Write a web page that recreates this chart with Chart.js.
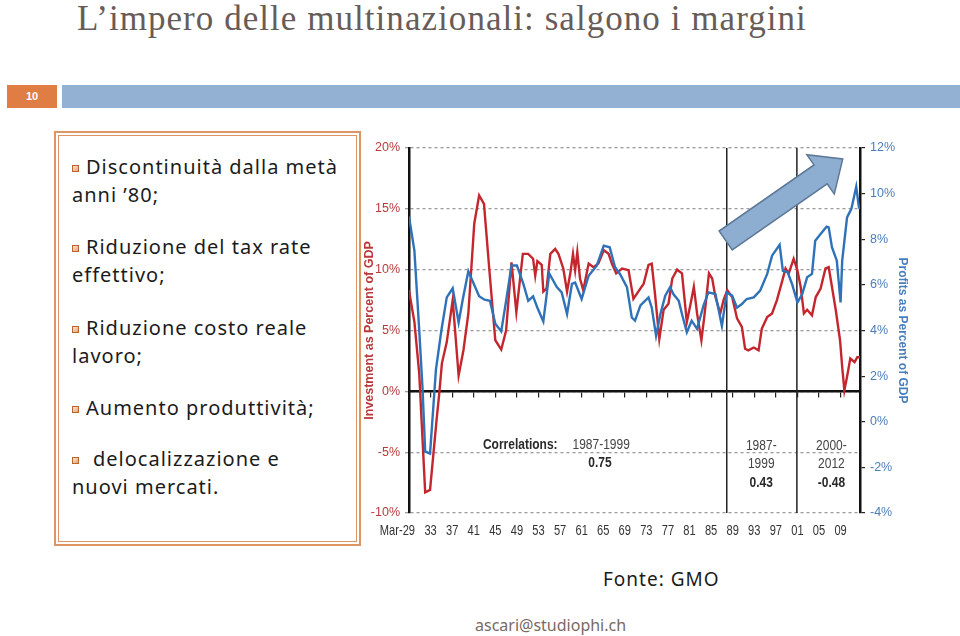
<!DOCTYPE html>
<html>
<head>
<meta charset="utf-8">
<script src="https://cdn.jsdelivr.net/npm/chart.js@4.4.1/dist/chart.umd.min.js"></script>
<style>
  html,body{margin:0;padding:0;background:#fff;}
  body{width:960px;height:636px;position:relative;overflow:hidden;}
  .title{position:absolute;left:77px;top:-1px;font-family:'Liberation Serif','DejaVu Serif',serif;font-size:35px;color:#675c58;white-space:nowrap;letter-spacing:1.05px;}
  .num{position:absolute;left:7px;top:85px;width:50px;height:23px;background:#e07d45;color:#fff;font-family:'Liberation Sans',sans-serif;font-weight:bold;font-size:11px;line-height:23px;text-align:center;}
  .bar{position:absolute;left:62px;top:85px;width:898px;height:23px;background:#93b2d3;}
  .box1{position:absolute;left:54px;top:131px;width:303px;height:411px;border:2px solid #dc9563;}
  .box2{position:absolute;left:58px;top:135px;width:297px;height:405px;border:1.5px solid #dc9563;}
  .ln{position:absolute;font-family:'Noto Sans','Open Sans',sans-serif;font-size:20px;line-height:28px;color:#1b1b1b;white-space:nowrap;letter-spacing:1px;}
  .bul{position:absolute;width:5px;height:5px;border:1px solid #b8652e;background:linear-gradient(135deg,#fde8d6,#e9a271);}
  .src{position:absolute;left:603px;top:566px;font-family:'Noto Sans','Open Sans',sans-serif;font-size:19px;color:#1b1b1b;white-space:nowrap;letter-spacing:1px;}
  .mail{position:absolute;left:475px;top:614px;font-family:'Noto Sans','Open Sans',sans-serif;font-size:16px;color:#7a6a64;white-space:nowrap;}
  #cv{position:absolute;left:360px;top:130px;}
</style>
</head>
<body>
<div class="title">L’impero delle multinazionali: salgono i margini</div>
<div class="num">10</div>
<div class="bar"></div>
<div class="box1"></div>
<div class="box2"></div>

<div class="bul" style="left:72px;top:165px"></div>
<div class="ln" style="left:86px;top:153px">Discontinuità dalla metà</div>
<div class="ln" style="left:72px;top:181px">anni ’80;</div>
<div class="bul" style="left:72px;top:245px"></div>
<div class="ln" style="left:86px;top:233px">Riduzione del tax rate</div>
<div class="ln" style="left:72px;top:261px">effettivo;</div>
<div class="bul" style="left:72px;top:326px"></div>
<div class="ln" style="left:86px;top:314px">Riduzione costo reale</div>
<div class="ln" style="left:72px;top:342px">lavoro;</div>
<div class="bul" style="left:72px;top:406px"></div>
<div class="ln" style="left:86px;top:394px">Aumento produttività;</div>
<div class="bul" style="left:72px;top:457px"></div>
<div class="ln" style="left:93px;top:445px">delocalizzazione e</div>
<div class="ln" style="left:72px;top:473px">nuovi mercati.</div>

<div class="src">Fonte: GMO</div>
<div class="mail">ascari@studiophi.ch</div>

<canvas id="cv" width="552" height="415"></canvas>

<script>
// ---- Data ----
const invYears = [1929,1930,1930.9,1932,1932.9,1934.1,1934.6,1935.1,1936,1937.1,1938.2,1939.1,1940,1941.1,1942,1942.9,1943.9,1945,1946.1,1947,1948,1948.9,1950.1,1951.1,1952,1952.4,1952.8,1953.6,1953.9,1954.5,1955.2,1956.1,1956.7,1957.6,1958.3,1958.9,1959.4,1959.8,1960.2,1960.7,1961.3,1962.3,1963.2,1964.1,1965.1,1966,1966.6,1967.4,1968.5,1969.7,1970.6,1971.5,1972.5,1973.4,1974,1974.6,1975.4,1976.2,1977.1,1977.8,1978.7,1979.6,1980.5,1981.2,1981.8,1982.4,1983.2,1983.7,1984.2,1984.6,1985.2,1985.8,1986.7,1987.3,1988,1988.9,1989.8,1990.7,1991.3,1991.9,1992.9,1993.8,1994.4,1995.4,1996.3,1997.2,1998.2,1998.8,1999.4,2000,2000.3,2001,2001.6,2002.2,2002.8,2003.7,2004.4,2005.3,2006.2,2006.8,2007.4,2008.1,2008.9,2009.3,2009.7,2010.2,2010.8,2011.6,2012.1,2012.6];
const invValues = [8.3,5.7,1.45,-8.3,-8.1,-2.4,-0.2,2.3,4.05,7.5,1.3,3.4,6.4,13.8,16.1,15.4,9.95,4.2,3.43,5.0,10.6,6.5,11.3,11.3,10.9,9.5,10.7,10.4,8.2,8.45,11.3,11.7,11.3,10.1,8.2,9.7,11.3,9.95,11.45,9.27,8.3,10.5,10.2,10.5,11.6,11.3,10.5,9.7,10.1,9.95,7.6,8.2,8.85,10.4,10.5,8.0,4.3,6.7,7.2,9.27,10.0,9.7,5.7,7.2,8.6,6.4,4.2,6.0,8.0,9.7,9.27,7.75,6.4,7.5,8.3,7.75,6.0,5.3,3.5,3.37,3.6,3.37,5.15,6.1,6.4,7.5,9.1,10.1,9.7,10.5,10.9,9.95,8.6,6.4,6.7,6.25,7.75,8.45,10.1,10.2,8.6,6.7,4.2,2.0,0.08,1.2,2.7,2.4,2.8,2.8];

const profYears = [1929,1930,1930.9,1931.5,1932,1932.9,1934,1935,1936,1937.1,1938.2,1939,1940,1941,1942,1943,1944,1945,1946.1,1947.1,1948,1949,1950.2,1951.1,1952,1952.8,1953.9,1955,1956.4,1957.3,1958.3,1959.2,1959.8,1961,1962.3,1963.8,1965.1,1966.2,1967.2,1968.1,1969.4,1970.3,1970.9,1971.9,1973.4,1974,1974.8,1975.6,1976.5,1977.4,1978,1979,1979.6,1980.5,1981.4,1982.4,1983.6,1984.5,1985.8,1987,1987.9,1988.9,1989.8,1990.7,1991.6,1992.9,1994.1,1995.4,1996.3,1997.7,1998.3,1999.2,2000,2001,2001.9,2002.8,2003.7,2004.3,2005.3,2006.4,2006.8,2007.4,2008.3,2009,2009.3,2010.2,2011,2011.9,2012.4,2012.6];
const profValues = [9.0,7.5,4.0,1.5,-1.3,-1.4,2.3,4.0,5.45,5.85,4.35,5.4,6.6,6.05,5.5,5.35,5.3,4.3,3.96,5.45,6.85,6.85,6.04,5.3,5.5,5.0,4.4,6.5,5.9,5.67,4.72,6.04,6.1,5.38,6.4,6.84,7.72,7.65,6.77,6.48,5.9,4.57,4.43,5.1,5.45,5.0,3.77,4.72,5.53,5.9,5.6,5.3,4.72,3.92,4.43,4.07,5.1,5.67,5.6,4.2,5.67,5.53,5.0,5.16,5.38,5.45,5.75,6.48,7.28,7.76,6.62,6.55,6.04,5.23,5.6,6.33,6.48,7.94,8.23,8.55,8.52,7.65,7.06,5.23,7.06,8.96,9.33,10.3,9.4,9.33];

const tickYears  = [1929,1933,1937,1941,1945,1949,1953,1957,1961,1965,1969,1973,1977,1981,1985,1989,1993,1997,2001,2005,2009];
const tickLabels = ['Mar-29','33','37','41','45','49','53','57','61','65','69','73','77','81','85','89','93','97','01','05','09'];

const periodBreaks = [1987.9, 2000.9];   // vertical separators
const corrPeriods = ['1987-1999', '1987-\n1999', '2000-\n2012'];
const corrValues  = ['0.75', '0.43', '-0.48'];

const RED = '#c4262e', BLUE = '#2f72b8';
const SANS = "'Liberation Sans',Arial,sans-serif";

const xr = {min:1929, max:2012.6};
const setTicks = s => { s.ticks = tickYears.map(v => ({value:v})); };

const datasets = [
  {data: invYears.map((x,i)=>({x, y:invValues[i]})), yAxisID:'y', borderColor:RED, borderWidth:2.4, pointRadius:0, tension:0, order:2},
  {data: profYears.map((x,i)=>({x, y:profValues[i]})), yAxisID:'y2', borderColor:BLUE, borderWidth:2.4, pointRadius:0, tension:0, order:1},
];
periodBreaks.forEach(b => datasets.push({data:[{x:b,y:-10},{x:b,y:20}], yAxisID:'y', borderColor:'#222', borderWidth:1.5, pointRadius:0, order:3}));

// narrow text helper (Arial-Narrow look)
function narrowText(ctx, txt, px, py, align, sx){
  ctx.save();
  ctx.translate(px, py);
  ctx.scale(sx, 1);
  ctx.textAlign = align;
  ctx.fillText(txt, 0, 0);
  ctx.restore();
}

const annot = {
  id:'annot',
  afterDraw(chart){
    const {ctx, scales:{x, y}, chartArea} = chart;
    ctx.save();
    ctx.textBaseline = 'middle';
    // x tick labels (narrow)
    ctx.font = "15px " + SANS;
    ctx.fillStyle = '#333';
    tickYears.forEach((v,i) => {
      const px = x.getPixelForValue(v);
      if (i === 0) narrowText(ctx, tickLabels[i], px + 6, chartArea.bottom + 18, 'right', 0.74);
      else narrowText(ctx, tickLabels[i], px, chartArea.bottom + 18, 'center', 0.74);
    });
    ctx.restore();
  },
  afterDatasetsDraw(chart){
    const {ctx, scales:{x, y}} = chart;
    ctx.save();
    ctx.textBaseline = 'middle';
    const S = 0.8;
    ctx.font = "bold 15px " + SANS; ctx.fillStyle = '#2a2a2a';
    narrowText(ctx, 'Correlations:', x.getPixelForValue(1942.7), y.getPixelForValue(-4.36), 'left', S);
    ctx.font = "15px " + SANS; ctx.fillStyle = '#444';
    narrowText(ctx, corrPeriods[0], x.getPixelForValue(1959.3), y.getPixelForValue(-4.36), 'left', S);
    ctx.font = "bold 15px " + SANS; ctx.fillStyle = '#2a2a2a';
    narrowText(ctx, corrValues[0], x.getPixelForValue(1964.4), y.getPixelForValue(-5.9), 'center', S);
    const centers = [1994.3, 2007.3];
    [1,2].forEach((k,j) => {
      const cx = x.getPixelForValue(centers[j]);
      const parts = corrPeriods[k].split('\n');
      ctx.font = "15px " + SANS; ctx.fillStyle = '#444';
      narrowText(ctx, parts[0], cx, y.getPixelForValue(-4.45), 'center', S);
      narrowText(ctx, parts[1], cx, y.getPixelForValue(-6.0), 'center', S);
      ctx.font = "bold 15px " + SANS; ctx.fillStyle = '#2a2a2a';
      narrowText(ctx, corrValues[k], cx, y.getPixelForValue(-7.55), 'center', S);
    });
    // arrow
    const x0 = x.getPixelForValue(1987.7), y0 = y.getPixelForValue(12.4);
    const x1 = x.getPixelForValue(2009.4), y1 = y.getPixelForValue(19.1);
    const dx = x1-x0, dy = y1-y0, L = Math.hypot(dx,dy);
    const ux = dx/L, uy = dy/L, nx = -uy, ny = ux;
    const sw = 11.5, hw = 24, hl = 27;
    const bx = x1 - ux*hl, by = y1 - uy*hl;
    ctx.beginPath();
    ctx.moveTo(x0+nx*sw, y0+ny*sw);
    ctx.lineTo(bx+nx*sw, by+ny*sw);
    ctx.lineTo(bx+nx*hw, by+ny*hw);
    ctx.lineTo(x1, y1);
    ctx.lineTo(bx-nx*hw, by-ny*hw);
    ctx.lineTo(bx-nx*sw, by-ny*sw);
    ctx.lineTo(x0-nx*sw, y0-ny*sw);
    ctx.closePath();
    ctx.fillStyle = '#8eaed1';
    ctx.fill();
    ctx.lineWidth = 1.5;
    ctx.strokeStyle = '#5d7897';
    ctx.stroke();
    ctx.restore();
  }
};

new Chart(document.getElementById('cv'), {
  type:'line',
  data:{datasets},
  options:{
    responsive:false, animation:false, devicePixelRatio:1,
    layout:{padding:{top:18,left:0,right:0,bottom:0}},
    plugins:{legend:{display:false}, tooltip:{enabled:false}},
    scales:{
      x:{type:'linear', min:xr.min, max:xr.max, position:'bottom',
         afterBuildTicks:setTicks,
         afterFit:s=>{s.height=32;},
         ticks:{display:false},
         grid:{display:false, drawTicks:false}, border:{display:false}},
      xz:{type:'linear', min:xr.min, max:xr.max, position:{y:0},
         afterBuildTicks:setTicks,
         ticks:{display:false},
         grid:{drawOnChartArea:false, drawTicks:true, tickLength:5, color:'#222', lineWidth:1.2},
         border:{display:true, color:'#111', width:2.5}},
      y:{min:-10, max:20, position:'left',
         afterFit:s=>{s.width=49;},
         ticks:{stepSize:5, callback:v=>v+'%', color:'#b83a3c', padding:5, font:{family:SANS,size:12.5}},
         grid:{color:'#9c9c9c', lineWidth:1.3, tickLength:4, drawTicks:true},
         border:{display:true, color:'#111', width:2.5, dash:[3,3]},
         title:{display:true, text:'Investment as Percent of GDP', color:'#b83a3c', font:{family:SANS, size:12.5, weight:'bold'}, padding:2}},
      y2:{min:-4, max:12, position:'right',
         afterFit:s=>{s.width=52;},
         ticks:{stepSize:2, callback:v=>v+'%', color:'#4a7dbb', padding:5, font:{family:SANS,size:12.5}},
         grid:{drawOnChartArea:false, tickLength:5, color:'#222', lineWidth:1.2},
         border:{display:true, color:'#111', width:2.5},
         title:{display:true, text:'Profits as Percent of GDP', color:'#4a7dbb', font:{family:SANS, size:12, weight:'bold'}, padding:2}}
    }
  },
  plugins:[annot]
});
</script>
</body>
</html>
